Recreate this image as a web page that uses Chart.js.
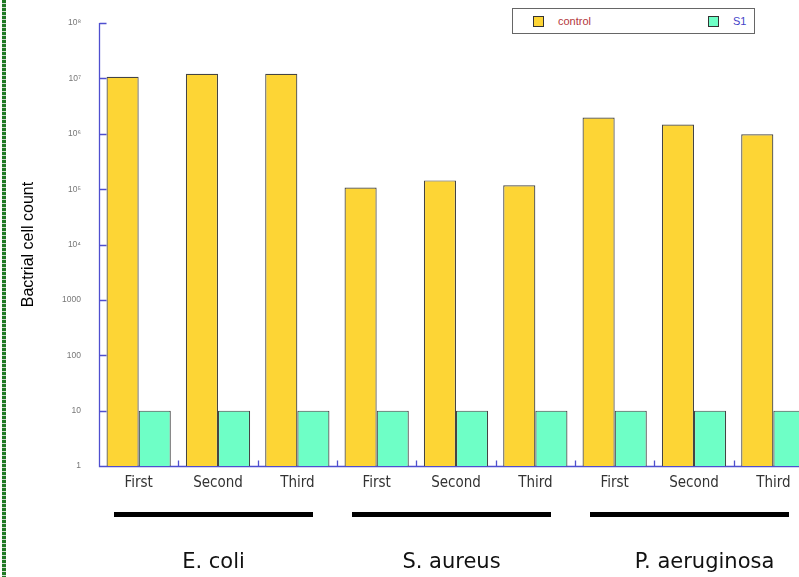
<!DOCTYPE html>
<html>
<head>
<meta charset="utf-8">
<script src="https://cdn.jsdelivr.net/npm/chart.js@4.4.1/dist/chart.umd.min.js"></script>
<style>
  html, body { margin: 0; padding: 0; background: #fff; overflow: hidden; }
  #wrap { position: relative; width: 799px; height: 577px; overflow: hidden; }
  #chart { position: absolute; left: 0; top: 0; }
  /* dotted green frame edge on the left */
  #edge {
    position: absolute; left: 2px; top: 0; width: 4px; height: 577px;
    background: repeating-linear-gradient(to bottom, #1f7a24 0 3px, #cfd8cf 3px 4px);
  }
  #legend {
    position: absolute; left: 512px; top: 8px; width: 241px; height: 24px;
    border: 1px solid #666; background: #fff;
    font: 11px 'Liberation Sans', Arial, sans-serif;
  }
  #legend .item { position: absolute; top: 6px; display: flex; align-items: center; }
  #legend .box { width: 9px; height: 9px; border: 1px solid #333; margin-right: 14px; }
</style>
</head>
<body>
<div id="wrap">
  <canvas id="chart" width="830" height="577"></canvas>
  <div id="edge"></div>
  <div id="legend"></div>
</div>
<script>
const groups = ['E. coli', 'S. aureus', 'P. aeruginosa'];
const replicates = ['First', 'Second', 'Third'];
const seriesNames = ['control', 'S1'];
const controlValues = [1.07e7, 1.22e7, 1.22e7, 1.07e5, 1.44e5, 1.18e5, 1.97e6, 1.47e6, 0.98e6];
const s1Values = [10, 10, 10, 10, 10, 10, 10, 10, 10];
const yTickValues = [1, 10, 100, 1000, 1e4, 1e5, 1e6, 1e7, 1e8];
const yTickLabels = ['1', '10', '100', '1000', '10\u2074', '10\u2075', '10\u2076', '10\u2077', '10\u2078'];

const fillColors = ['#fdd535', '#6effc6'];
const nameColors = ['#b3363c', '#4343c8'];
const axisBlue = '#4f4fcf';

const labels = groups.flatMap(() => replicates);

// Legend is plain HTML in a box at the top right, coloured names per series.
const legendHost = document.getElementById('legend');
const legendLeft = [20, 195];
seriesNames.forEach((name, i) => {
  const item = document.createElement('div');
  item.className = 'item';
  item.style.left = legendLeft[i] + 'px';
  item.innerHTML = '<span class="box" style="background:' + fillColors[i] + '"></span>' +
    '<span style="color:' + nameColors[i] + '">' + name + '</span>';
  legendHost.appendChild(item);
});

// Axis lines and ticks pointing into the plot; the library draws ticks outward.
const inwardTicks = {
  id: 'inwardTicks',
  beforeDatasetsDraw(chart) {
    const { ctx, chartArea, scales: { x, y } } = chart;
    const left = Math.round(chartArea.left) + 0.5;
    const bottom = Math.round(chartArea.bottom) + 0.5;
    ctx.save();
    ctx.strokeStyle = axisBlue;
    ctx.lineWidth = 1.3;
    ctx.beginPath();
    ctx.moveTo(left, chartArea.top);
    ctx.lineTo(left, bottom);
    ctx.lineTo(chartArea.right, bottom);
    yTickValues.forEach((v) => {
      const py = Math.round(y.getPixelForValue(v)) + 0.5;
      ctx.moveTo(left, py);
      ctx.lineTo(left + 7, py);
    });
    for (let i = 1; i < labels.length; i++) {
      const px = Math.round((x.getPixelForValue(i - 1) + x.getPixelForValue(i)) / 2) + 0.5;
      ctx.moveTo(px, bottom);
      ctx.lineTo(px, bottom - 6);
    }
    ctx.stroke();
    ctx.restore();
  },
};

// Thick black bar under each organism's three replicates, name below it.
const labelShift = [0, 0, 15];
const groupBars = {
  id: 'groupBars',
  afterDraw(chart) {
    const { ctx, scales: { x } } = chart;
    const half = (x.getPixelForValue(1) - x.getPixelForValue(0)) / 2;
    ctx.save();
    groups.forEach((name, g) => {
      const first = g * replicates.length;
      const last = first + replicates.length - 1;
      const x0 = x.getPixelForValue(first) - half + 15;
      const x1 = x.getPixelForValue(last) + half - 24;
      ctx.fillStyle = '#000';
      ctx.fillRect(x0, 512, x1 - x0, 5);
      ctx.font = "21px 'DejaVu Sans', 'Noto Sans', sans-serif";
      ctx.textAlign = 'center';
      ctx.textBaseline = 'middle';
      ctx.fillStyle = '#111';
      ctx.fillText(name, (x0 + x1) / 2 + labelShift[g], 563);
    });
    ctx.restore();
  },
};

new Chart(document.getElementById('chart'), {
  type: 'bar',
  data: {
    labels,
    datasets: seriesNames.map((name, i) => ({
      label: name,
      data: i === 0 ? controlValues : s1Values,
      backgroundColor: fillColors[i],
      borderColor: '#444',
      borderWidth: 1.2,
      barPercentage: 1.0,
      categoryPercentage: 0.81,
    })),
  },
  options: {
    responsive: false,
    animation: false,
    devicePixelRatio: 1,
    layout: { padding: { top: 23, right: 17, left: 0, bottom: 0 } },
    plugins: { legend: { display: false }, tooltip: { enabled: false } },
    scales: {
      x: {
        grid: { display: false, drawTicks: false },
        border: { display: false },
        ticks: {
          color: '#333',
          padding: 8,
          autoSkip: false,
          maxRotation: 0,
          font: { family: "'Liberation Sans Narrow', 'DejaVu Sans Condensed', sans-serif", size: 15 },
        },
        afterFit(scale) { scale.height = 111; },
      },
      y: {
        type: 'logarithmic',
        min: 1,
        max: 1e8,
        grid: { display: false, drawTicks: false },
        border: { display: false },
        afterBuildTicks(scale) {
          scale.ticks = yTickValues.map((value) => ({ value }));
        },
        ticks: {
          color: '#777',
          padding: 18,
          font: { family: "'Liberation Sans', Arial, sans-serif", size: 8.5 },
          callback(value) {
            const i = yTickValues.indexOf(value);
            return i >= 0 ? yTickLabels[i] : '';
          },
        },
        title: {
          display: true,
          text: 'Bactrial cell count',
          color: '#000',
          font: { family: "'Liberation Sans', Arial, sans-serif", size: 16 },
          padding: { top: 19, bottom: 0 },
        },
        afterFit(scale) { scale.width = 99; },
      },
    },
  },
  plugins: [inwardTicks, groupBars],
});
</script>
</body>
</html>
